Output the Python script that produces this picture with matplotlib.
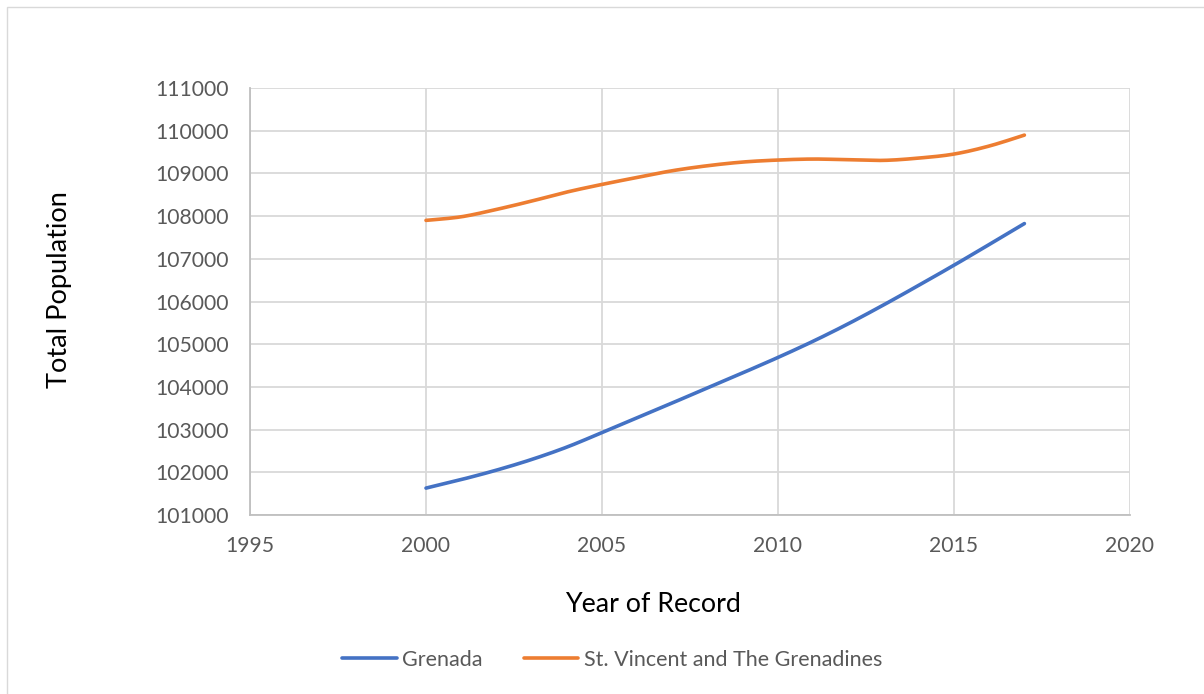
import numpy as np
import matplotlib
matplotlib.use("Agg")
import matplotlib.pyplot as plt
from matplotlib.patches import Rectangle

# Population by year of record
years = [2000, 2001, 2002, 2003, 2004, 2005, 2006, 2007, 2008,
         2009, 2010, 2011, 2012, 2013, 2014, 2015, 2016, 2017]
grenada = [101630, 101830, 102050, 102300, 102590, 102930, 103275, 103625, 103980,
           104330, 104690, 105070, 105480, 105920, 106380, 106850, 107335, 107825]
st_vincent = [107900, 107984, 108156, 108352, 108563, 108742, 108906, 109063, 109180,
              109266, 109313, 109336, 109320, 109305, 109359, 109453, 109641, 109897]

series_names = ["Grenada", "St. Vincent and The Grenadines"]
series_colors = ["#4472C4", "#ED7D31"]

x_ticks = [1995, 2000, 2005, 2010, 2015, 2020]
y_ticks = list(range(101000, 111001, 1000))


def smooth(xs, ys, steps=30):
    """Catmull-Rom spline through the points, like a smoothed office chart line."""
    p = np.column_stack([xs, ys]).astype(float)
    p = np.vstack([p[0], p, p[-1]])
    out = []
    for i in range(1, len(p) - 2):
        p0, p1, p2, p3 = p[i - 1], p[i], p[i + 1], p[i + 2]
        t = np.linspace(0, 1, steps, endpoint=(i == len(p) - 3))[:, None]
        seg = 0.5 * ((2 * p1) + (-p0 + p2) * t
                     + (2 * p0 - 5 * p1 + 4 * p2 - p3) * t ** 2
                     + (-p0 + 3 * p1 - 3 * p2 + p3) * t ** 3)
        out.append(seg)
    out = np.vstack(out)
    return out[:, 0], out[:, 1]


plt.rcParams["font.family"] = ["Lato", "DejaVu Sans"]

W, H = 1204, 694
fig = plt.figure(figsize=(W / 100, H / 100), dpi=100)
fig.patch.set_facecolor("white")

# chart-area frame
fig.add_artist(Rectangle((7 / W, -0.1), 1.2, 1 - 7 / H + 0.1, transform=fig.transFigure,
                         fill=False, edgecolor="#D9D9D9", linewidth=1.0))

ax = fig.add_axes([250 / W, 1 - 515 / H, (1130 - 250) / W, (515 - 88) / H])

for ys, name, color in zip([grenada, st_vincent], series_names, series_colors):
    sx, sy = smooth(years, ys)
    ax.plot(sx, sy, color=color, linewidth=2.6, label=name, solid_capstyle="round")

ax.set_xlim(x_ticks[0], x_ticks[-1])
ax.set_ylim(y_ticks[0], y_ticks[-1])
ax.set_xticks(x_ticks)
ax.set_yticks(y_ticks)
ax.set_xticklabels([str(v) for v in x_ticks])
ax.set_yticklabels([str(v) for v in y_ticks])

ax.grid(True, color="#D9D9D9", linewidth=1.3)
ax.set_axisbelow(True)
for side in ["top", "right"]:
    ax.spines[side].set_visible(False)
ax.spines["left"].set_color("#BFBFBF")
ax.spines["bottom"].set_color("#BFBFBF")
ax.spines["left"].set_linewidth(1.3)
ax.spines["bottom"].set_linewidth(1.3)

ax.tick_params(axis="both", length=0, labelsize=15.2, labelcolor="#595959")
ax.tick_params(axis="y", pad=15)
ax.tick_params(axis="x", pad=15)

fig.text(60 / W, 1 - 290 / H, "Total Population", rotation=90, ha="center", va="center",
         fontsize=19.5, color="#000000")
fig.text(653 / W, 1 - 604 / H, "Year of Record", ha="center", va="center",
         fontsize=19.3, color="#000000")

leg = fig.legend(loc="center", bbox_to_anchor=(612 / W, 1 - 660 / H), ncol=2,
                 frameon=False, fontsize=15.5, handlelength=2.55, handletextpad=0.25,
                 columnspacing=1.9)
for t in leg.get_texts():
    t.set_color("#595959")

fig.savefig("out.png", dpi=100, facecolor="white")
